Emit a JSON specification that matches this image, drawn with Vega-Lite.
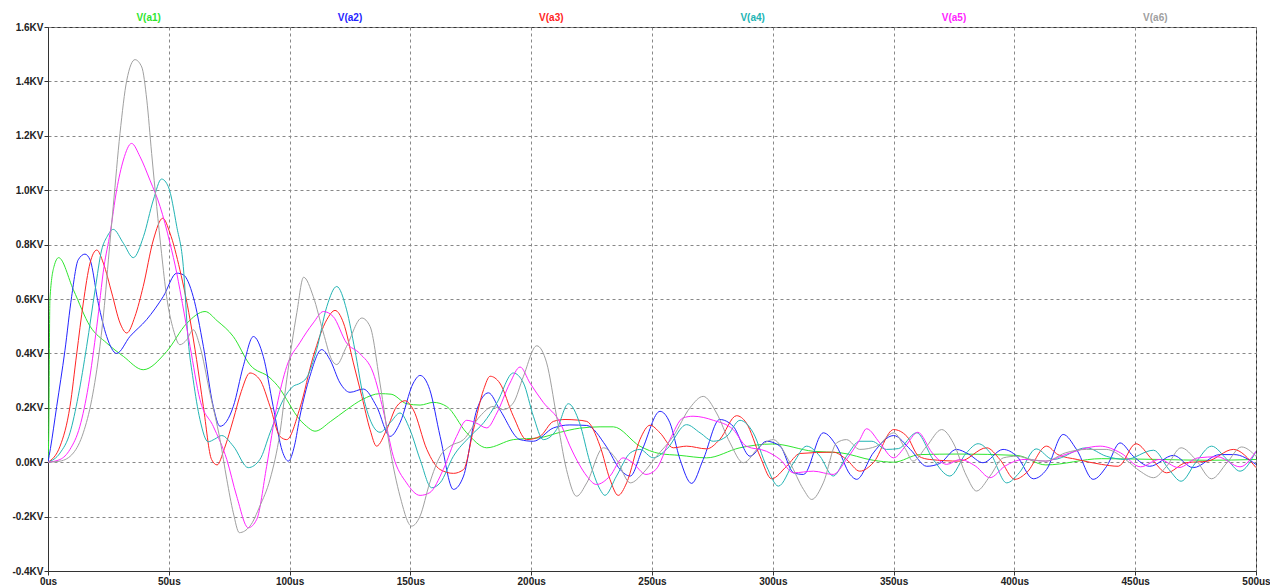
{
  "$schema": "https://vega.github.io/schema/vega-lite/v6.json",
  "width": 1208,
  "height": 544,
  "autosize": {"type": "none"},
  "padding": {"left": 48, "top": 27, "right": 14, "bottom": 17},
  "background": "#ffffff",
  "config": {
    "font": "Liberation Sans",
    "view": {"stroke": "#333333", "strokeWidth": 1},
    "axis": {
      "domainColor": "#333333",
      "tickColor": "#333333",
      "tickSize": 4,
      "labelFont": "Liberation Sans",
      "labelFontSize": 10,
      "labelFontWeight": "bold",
      "labelColor": "#222222",
      "gridColor": "#888888",
      "gridDash": [3, 3],
      "gridOpacity": 1,
      "gridWidth": 1,
      "title": null
    }
  },
  "datasets": {
    "legend": [{"s": "V(a1)"}, {"s": "V(a2)"}, {"s": "V(a3)"}, {"s": "V(a4)"}, {"s": "V(a5)"}, {"s": "V(a6)"}],
    "a1": [[0,0],[0.3,0.1],[0.8,0.6],[2.5,0.72],[4.4,0.752],[10.5,0.634],[17.4,0.5],[24.3,0.438],[31.2,0.389],[39.4,0.34],[49.1,0.407],[57.4,0.51],[65,0.554],[70,0.52],[76.7,0.462],[83.6,0.358],[91.9,0.31],[96,0.27],[98.8,0.23],[103,0.17],[107,0.132],[110.5,0.114],[117,0.15],[123.6,0.193],[130,0.23],[137.4,0.252],[142,0.25],[148.5,0.215],[154,0.21],[159.5,0.22],[165,0.205],[173.3,0.108],[181.6,0.053],[192.6,0.083],[203.6,0.09],[212,0.11],[220,0.125],[228.5,0.13],[234,0.13],[245,0.059],[253,0.032],[261.6,0.025],[272.6,0.016],[286.4,0.053],[300,0.067],[316.8,0.04],[327.8,0.035],[341.6,0.007],[350,0.0],[360.9,0.028],[377,0.03],[401,0.025],[413,-0.01],[436,0.013],[460,0.01],[480,0.007],[500,0.01]],
    "a2": [[0,0],[1,0.05],[3.6,0.205],[7,0.41],[9.8,0.61],[12.5,0.744],[15.3,0.765],[17.4,0.744],[20.8,0.585],[24.3,0.462],[28.4,0.4],[33.9,0.462],[40.8,0.524],[47.7,0.609],[53.3,0.695],[56,0.689],[60.1,0.609],[64.3,0.426],[68.4,0.205],[71.2,0.132],[76.7,0.205],[80.8,0.352],[85,0.462],[89.1,0.389],[93.2,0.205],[97,0.04],[99.5,0.004],[102,0.06],[104.3,0.17],[108.4,0.316],[113.3,0.414],[116.7,0.377],[120.9,0.291],[125,0.257],[130.5,0.269],[136,0.205],[141.6,0.095],[145.7,0.145],[151.2,0.291],[154,0.319],[158,0.267],[162.3,0.095],[167.8,-0.1],[172,-0.051],[177.5,0.193],[182.3,0.255],[187,0.193],[195.4,0.083],[200.9,0.077],[209.2,0.126],[216,0.137],[223,0.135],[231,0.059],[236.8,-0.027],[241,-0.051],[246,0.047],[253.3,0.187],[257.4,0.145],[261.6,0.01],[266.4,-0.078],[271.2,0.01],[278,0.157],[283.6,0.132],[290.6,0.022],[297.4,0.077],[303,0.059],[308.6,-0.039],[312.7,-0.045],[320.9,0.108],[326.4,0.059],[332,-0.045],[334.7,-0.063],[341.6,0.034],[350,0.098],[356.9,0.047],[363.7,-0.015],[369,-0.005],[376,0.047],[381,0.03],[387,-0.002],[395.3,0.047],[401,0.022],[407.8,-0.061],[413.3,-0.027],[420.2,0.102],[425.7,0.047],[432.6,-0.063],[438.2,-0.015],[443.7,0.071],[449.2,0.022],[456,-0.015],[465.8,0.025],[474,-0.02],[485,0.028],[491,0.028],[500,-0.008]],
    "a3": [[0,0],[5,0.059],[9.1,0.205],[11.9,0.4],[14.6,0.585],[17.4,0.732],[20.2,0.78],[22.9,0.732],[26.4,0.622],[29.8,0.512],[32.6,0.475],[36,0.536],[39.4,0.646],[43.6,0.817],[47.5,0.897],[50.5,0.842],[54.6,0.707],[58.8,0.524],[61.5,0.377],[64.3,0.205],[67.7,0.01],[70,-0.01],[73,0.05],[76.7,0.157],[80,0.26],[83.6,0.328],[87.7,0.303],[91.9,0.205],[96,0.095],[98.8,0.083],[104.3,0.2],[109.8,0.389],[115.4,0.524],[118.8,0.558],[122.3,0.512],[126.4,0.365],[129.9,0.242],[133.3,0.12],[136,0.059],[140.2,0.12],[144.3,0.205],[147.8,0.226],[151.2,0.193],[156.8,0.047],[162.3,-0.027],[167.8,-0.041],[172,-0.027],[176.1,0.12],[180.3,0.267],[183,0.316],[187,0.291],[192.6,0.169],[198.1,0.083],[203.6,0.095],[209.2,0.15],[214,0.157],[219,0.155],[223,0.15],[228.5,0.059],[232.6,-0.063],[236,-0.122],[239.5,-0.076],[245,0.083],[249.2,0.136],[253.3,0.108],[258.8,0.053],[264.3,0.059],[272.6,0.049],[278,0.083],[285,0.171],[289,0.145],[294.7,0.022],[299.5,-0.061],[305.7,-0.015],[311.3,0.032],[325,0.037],[330.5,0.01],[336,-0.033],[341.6,-0.002],[350,0.12],[355.5,0.095],[360.4,0.022],[365,0.01],[377.5,0.004],[388.5,0.053],[394,0.01],[400.2,-0.063],[405,-0.039],[413.3,0.059],[418,0.028],[426,0.01],[436,-0.008],[443,-0.015],[450.3,0.068],[457,0.01],[463,-0.039],[471,-0.002],[480,0.004],[490.6,0.047],[500,-0.02]],
    "a4": [[0,0],[5,0.034],[9.1,0.108],[12.5,0.242],[16,0.426],[19.5,0.634],[22.2,0.78],[24.5,0.83],[27,0.856],[31.2,0.805],[35.3,0.752],[39.5,0.829],[43.6,0.964],[47,1.041],[49.8,1.013],[53.3,0.866],[56,0.72],[58,0.45],[60.1,0.303],[62.9,0.157],[66.3,0.075],[69,0.085],[71.9,0.098],[76.7,0.059],[82.9,-0.02],[87.7,0.01],[91.9,0.108],[97.4,0.23],[101.5,0.279],[104.3,0.29],[107,0.31],[111.2,0.414],[115.4,0.572],[119.5,0.646],[123.6,0.56],[127,0.414],[130.5,0.242],[134.6,0.132],[137.4,0.11],[141.6,0.145],[145.7,0.181],[149.8,0.12],[154,0.01],[158.8,-0.094],[162.3,-0.076],[167.8,0.022],[174.7,0.095],[180.3,0.145],[185.8,0.218],[192.6,0.328],[196.8,0.291],[200.9,0.169],[205,0.083],[210.5,0.12],[215.4,0.215],[220,0.145],[224.3,0.0],[228.5,-0.1],[230.5,-0.122],[235.3,-0.051],[241,0.034],[245,0.047],[250.5,0.016],[256,0.047],[264.3,0.138],[269.9,0.108],[275.4,0.077],[280.9,0.095],[286.4,0.154],[291.9,0.108],[297.4,-0.015],[302.3,-0.088],[308.6,-0.002],[314,0.059],[319.5,0.022],[325,-0.051],[330.5,0.022],[336,0.077],[341,0.077],[347,0.047],[352,0.05],[359.5,0.108],[366.4,0.01],[373.3,-0.051],[380.1,0.034],[385,0.068],[390,0.034],[396.8,-0.076],[402,-0.039],[409,0.049],[416,0.01],[429.8,0.053],[438,0.022],[446,0.01],[457.6,0.044],[464,-0.027],[469,-0.07],[475,-0.002],[481.6,0.059],[488,0.01],[493.4,-0.033],[500,0.04]],
    "a5": [[0,0],[5,0.01],[9.1,0.047],[13.2,0.132],[16.7,0.279],[20.2,0.5],[23.2,0.72],[25.7,0.842],[28.4,1.0],[31.2,1.111],[34.6,1.172],[38.1,1.123],[42.2,1.037],[46.4,0.94],[50.5,0.805],[53.3,0.695],[54.6,0.634],[58.8,0.426],[62.9,0.23],[68.4,0.132],[74,0.01],[78.1,-0.125],[82.9,-0.241],[86.4,-0.21],[90.5,-0.015],[94.7,0.205],[98.8,0.352],[104.3,0.44],[109.8,0.512],[114,0.554],[118,0.536],[123.6,0.438],[129,0.4],[134.6,0.328],[138.7,0.193],[142.9,0.022],[148.4,-0.076],[154,-0.122],[158,-0.112],[163.6,-0.027],[169.1,0.095],[173.3,0.154],[177,0.145],[181.6,0.126],[185.8,0.181],[191.2,0.291],[195.4,0.35],[199.5,0.291],[205,0.22],[212,0.145],[216,0.06],[220,-0.01],[223,-0.051],[227,-0.082],[232.6,-0.051],[238,0.016],[242,-0.002],[247.5,-0.045],[251.6,-0.027],[257.4,0.083],[262.9,0.163],[267,0.169],[275.4,0.154],[283.6,0.12],[289,0.059],[297.4,0.04],[303,0.01],[308.6,-0.039],[316.8,-0.033],[325,-0.045],[330.5,0.01],[336,0.083],[338.8,0.123],[344.3,0.071],[350,0.016],[355,0.06],[360,0.11],[366,0.034],[372,-0.008],[377.5,0.01],[384,-0.015],[389.9,-0.057],[396,-0.015],[404,0.01],[413,0.004],[421,0.028],[435.5,0.059],[444,0.034],[452.2,-0.017],[460,0.01],[468,-0.02],[476,0.016],[484,0.02],[493.4,-0.017],[500,0.04]],
    "a6": [[0,0],[5,0.004],[10.5,0.034],[14.6,0.108],[18.1,0.23],[21.5,0.426],[23.6,0.6],[25,0.744],[27,0.94],[29.8,1.209],[32.6,1.404],[36,1.48],[38.8,1.453],[40.9,1.331],[42.9,1.135],[45,0.94],[47,0.768],[49.1,0.609],[51.9,0.487],[54.6,0.432],[57.4,0.45],[60.1,0.487],[62.9,0.426],[67,0.255],[71.2,0.083],[74,-0.063],[76.7,-0.186],[79.2,-0.259],[83.6,-0.235],[87.7,-0.161],[91.9,-0.063],[96,0.108],[98.8,0.303],[103,0.55],[105.8,0.68],[109.8,0.609],[114,0.475],[117.4,0.377],[119.5,0.359],[123.6,0.426],[129.9,0.53],[133.3,0.499],[137.4,0.291],[141.6,0.047],[145.7,-0.125],[150.5,-0.235],[154,-0.198],[158,-0.076],[162.3,0.022],[166.4,0.059],[172,0.083],[178.8,0.169],[184.3,0.205],[188.4,0.193],[192.6,0.218],[196.8,0.316],[202.3,0.428],[206.4,0.365],[210.5,0.169],[214.6,-0.027],[218.8,-0.125],[223,-0.076],[229.9,0.053],[235.3,0.01],[241,-0.076],[246.4,-0.039],[251.9,0.022],[258.8,0.095],[265.7,0.2],[271.2,0.242],[276.7,0.181],[282.3,0.071],[287.8,-0.002],[294.7,0.059],[300.2,0.083],[307.1,-0.002],[312.7,-0.1],[316.1,-0.137],[320.9,-0.076],[326.4,0.071],[330.5,0.083],[336,0.047],[343,0.059],[350,0.108],[355,0.047],[358,0.004],[363.7,0.059],[369.9,0.12],[374.7,0.071],[380.2,-0.051],[384.3,-0.106],[389.9,-0.051],[395.4,0.016],[401,0.022],[407,0.01],[413,0.004],[421,0.034],[429.8,0.047],[438,0.047],[446,0.01],[452,-0.033],[457.6,-0.057],[463,-0.015],[469,0.053],[475,0.01],[481.6,-0.061],[488,-0.002],[494,0.056],[500,0.022]]
  },
  "layer": [
    {
      "layer": [
        {"data": {"name": "a1"}, "transform": [{"calculate": "datum[0]", "as": "t"}, {"calculate": "datum[1]", "as": "v"}, {"calculate": "'V(a1)'", "as": "s"}],
         "mark": {"type": "line", "interpolate": "monotone", "strokeWidth": 1, "clip": true},
         "encoding": {
           "x": {"field": "t", "type": "quantitative", "scale": {"domain": [0, 500], "nice": false, "zero": false},
                 "axis": {"values": [0,50,100,150,200,250,300,350,400,450,500], "labelExpr": "datum.value + 'us'", "grid": true, "labelPadding": 1, "labelFlush": false}},
           "y": {"field": "v", "type": "quantitative", "scale": {"domain": [-0.4, 1.6], "nice": false, "zero": false},
                 "axis": {"values": [-0.4,-0.2,0,0.2,0.4,0.6,0.8,1.0,1.2,1.4,1.6], "labelExpr": "replace(format(datum.value, '.1f'), '\u2212', '-') + 'KV'", "grid": true, "labelPadding": 1}},
           "color": {"field": "s", "type": "nominal", "scale": {"domain": ["V(a1)","V(a2)","V(a3)","V(a4)","V(a5)","V(a6)"], "range": ["#2ee62e","#2424ff","#ff2424","#22b4b4","#ff24ff","#a0a0a0"]}, "legend": null}
         }},
        {"data": {"name": "a2"}, "transform": [{"calculate": "datum[0]", "as": "t"}, {"calculate": "datum[1]", "as": "v"}, {"calculate": "'V(a2)'", "as": "s"}],
         "mark": {"type": "line", "interpolate": "monotone", "strokeWidth": 1, "clip": true},
         "encoding": {"x": {"field": "t", "type": "quantitative"}, "y": {"field": "v", "type": "quantitative"}, "color": {"field": "s", "type": "nominal", "legend": null}}},
        {"data": {"name": "a3"}, "transform": [{"calculate": "datum[0]", "as": "t"}, {"calculate": "datum[1]", "as": "v"}, {"calculate": "'V(a3)'", "as": "s"}],
         "mark": {"type": "line", "interpolate": "monotone", "strokeWidth": 1, "clip": true},
         "encoding": {"x": {"field": "t", "type": "quantitative"}, "y": {"field": "v", "type": "quantitative"}, "color": {"field": "s", "type": "nominal", "legend": null}}},
        {"data": {"name": "a4"}, "transform": [{"calculate": "datum[0]", "as": "t"}, {"calculate": "datum[1]", "as": "v"}, {"calculate": "'V(a4)'", "as": "s"}],
         "mark": {"type": "line", "interpolate": "monotone", "strokeWidth": 1, "clip": true},
         "encoding": {"x": {"field": "t", "type": "quantitative"}, "y": {"field": "v", "type": "quantitative"}, "color": {"field": "s", "type": "nominal", "legend": null}}},
        {"data": {"name": "a5"}, "transform": [{"calculate": "datum[0]", "as": "t"}, {"calculate": "datum[1]", "as": "v"}, {"calculate": "'V(a5)'", "as": "s"}],
         "mark": {"type": "line", "interpolate": "monotone", "strokeWidth": 1, "clip": true},
         "encoding": {"x": {"field": "t", "type": "quantitative"}, "y": {"field": "v", "type": "quantitative"}, "color": {"field": "s", "type": "nominal", "legend": null}}},
        {"data": {"name": "a6"}, "transform": [{"calculate": "datum[0]", "as": "t"}, {"calculate": "datum[1]", "as": "v"}, {"calculate": "'V(a6)'", "as": "s"}],
         "mark": {"type": "line", "interpolate": "monotone", "strokeWidth": 1, "clip": true},
         "encoding": {"x": {"field": "t", "type": "quantitative"}, "y": {"field": "v", "type": "quantitative"}, "color": {"field": "s", "type": "nominal", "legend": null}}}
      ]
    },
    {"data": {"name": "legend"},
     "mark": {"type": "text", "fontSize": 10, "fontWeight": "bold", "font": "Liberation Sans", "baseline": "middle", "align": "center"},
     "encoding": {
       "x": {"field": "s", "type": "nominal", "scale": {"type": "point", "padding": 0.5}, "axis": null},
       "y": {"datum": 1.634, "type": "quantitative"},
       "text": {"field": "s"},
       "color": {"field": "s", "type": "nominal", "legend": null}
     }}
  ],
  "resolve": {"scale": {"x": "independent"}}
}
